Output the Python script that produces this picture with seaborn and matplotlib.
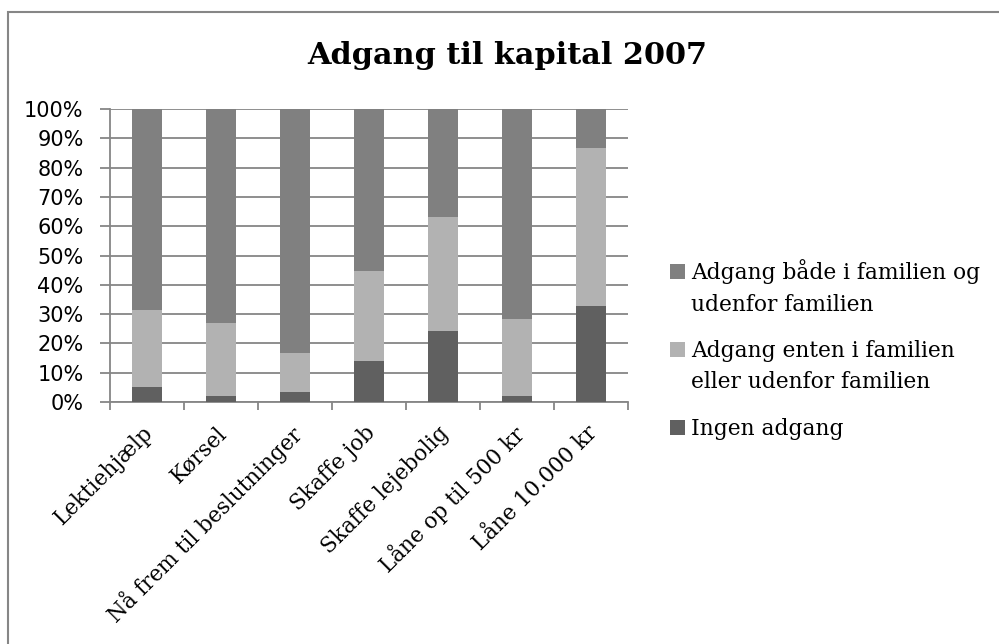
import matplotlib
matplotlib.use("Agg")
import matplotlib.pyplot as plt
from matplotlib.patches import Rectangle
from matplotlib.ticker import FixedLocator, PercentFormatter
from matplotlib.transforms import ScaledTranslation
import pandas as pd
import seaborn as sns

categories = ["Lektiehjælp", "Kørsel", "Nå frem til beslutninger", "Skaffe job",
              "Skaffe lejebolig", "Låne op til 500 kr", "Låne 10.000 kr"]
ingen = [5.1, 2.2, 3.4, 14.0, 24.4, 2.0, 32.7]
enten = [26.2, 24.6, 13.2, 30.8, 38.7, 26.2, 54.1]
begge = [68.7, 73.2, 83.4, 55.2, 36.9, 71.8, 13.2]

labels = ["Adgang både i familien og\nudenfor familien",
          "Adgang enten i familien\neller udenfor familien",
          "Ingen adgang"]
colors = ["#808080", "#b2b2b2", "#606060"]

df = pd.DataFrame({"kategori": categories, "ingen": ingen, "enten": enten, "begge": begge})
df["lav"] = df["ingen"]
df["mid"] = df["ingen"] + df["enten"]
df["top"] = df["mid"] + df["begge"]

sns.set_style("white")
plt.rcParams["text.color"] = "black"
plt.rcParams["xtick.color"] = "black"
plt.rcParams["ytick.color"] = "black"
serif = "DejaVu Serif"
sans = "DejaVu Sans"
W, H = 999, 644
grey = "#868686"

fig = plt.figure(figsize=(W / 100, H / 100), dpi=100)
ax = fig.add_axes([110 / W, 1 - 402 / H, 518 / W, 293 / H])

# stacked bars: draw cumulative layers from the tallest down
for col, c in zip(["top", "mid", "lav"], colors):
    sns.barplot(data=df, x="kategori", y=col, color=c, width=0.4,
                saturation=1, linewidth=0, ax=ax, zorder=3)

ax.set_xlim(-0.5, len(categories) - 0.5)
ax.set_ylim(0, 100)
ax.set_yticks(range(0, 101, 10))
ax.yaxis.set_major_formatter(PercentFormatter(decimals=0))
ax.grid(axis="y", color=grey, lw=1.3, zorder=0)
ax.set_axisbelow(True)
ax.set_xlabel("")
ax.set_ylabel("")

for s in ["top", "right"]:
    ax.spines[s].set_visible(False)
for s in ["left", "bottom"]:
    ax.spines[s].set_color(grey)
    ax.spines[s].set_linewidth(1.3)

ax.tick_params(axis="y", length=7, width=1.3, color=grey, pad=12,
               labelsize=15, left=True, labelcolor="black")
for t in ax.get_yticklabels():
    t.set_fontfamily(sans)

ax.xaxis.set_minor_locator(FixedLocator([i - 0.5 for i in range(len(categories) + 1)]))
ax.tick_params(axis="x", which="minor", length=6, width=1.3, color=grey, bottom=True)
ax.tick_params(axis="x", which="major", length=0, pad=15, labelcolor="black")
ax.set_xticks(range(len(categories)))
ax.set_xticklabels(categories, rotation=45, ha="right", va="top",
                   rotation_mode="anchor", fontsize=15.5, fontfamily=serif)
nudge = ScaledTranslation(-5 / 100, 1 / 100, fig.dpi_scale_trans)
for t in ax.get_xticklabels():
    t.set_transform(t.get_transform() + nudge)

fig.text(0.508, 1 - 55 / H, "Adgang til kapital 2007", ha="center", va="center",
         fontsize=21.8, fontweight="bold", fontfamily=serif)

# legend, drawn by hand so the swatch sits on the first line of each label
for k, (lab, c) in enumerate(zip(labels, colors)):
    base = 279 + 78 * k
    fig.add_artist(Rectangle((670 / W, 1 - base / H), 15 / W, 15 / H,
                             transform=fig.transFigure, facecolor=c, edgecolor="none"))
    for j, line in enumerate(lab.split("\n")):
        fig.text(691 / W, 1 - (base + 31.5 * j) / H, line, ha="left", va="baseline",
                 fontsize=15.7, fontfamily=serif)

fig.add_artist(Rectangle((8 / W, -0.1), 1.2, 1 - 12 / H + 0.1,
                         transform=fig.transFigure, fill=False,
                         edgecolor=grey, lw=1.5))

fig.savefig("out.png", dpi=100, facecolor="white")
